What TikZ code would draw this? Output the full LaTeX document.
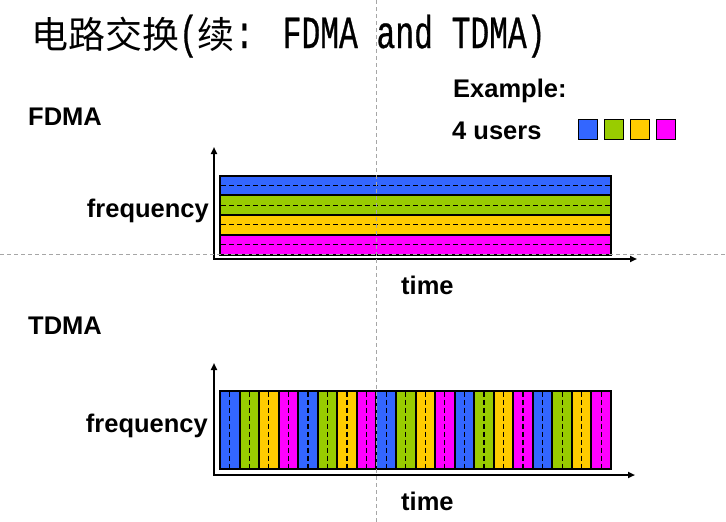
\documentclass[tikz,border=0pt]{standalone}
\usepackage{fontspec}
\setmainfont{Liberation Sans}
\newfontfamily\cjk{Noto Sans CJK SC}
\newfontfamily\lat[FakeStretch=0.68,FakeBold=0.6]{Liberation Mono}
\usetikzlibrary{arrows.meta}
\definecolor{ublue}{HTML}{3366FF}
\definecolor{ugreen}{HTML}{99CC00}
\definecolor{uyellow}{HTML}{FFCC00}
\definecolor{umag}{HTML}{FF00FF}
\definecolor{guide}{HTML}{A6A6A6}
\begin{document}
\begin{tikzpicture}[x=1pt,y=-1pt,
  lbl/.style={font=\fontsize{25.5}{30}\selectfont\bfseries, inner sep=0pt},
  band/.style={draw=black, line width=2pt},
  mid/.style={black, dash pattern=on 5pt off 3pt, line width=1.2pt},
  axis/.style={line width=2pt, line join=miter, {Triangle[length=7pt,width=6pt]}-{Triangle[length=7pt,width=6pt]}},
  guideline/.style={guide, line width=1pt, dash pattern=on 4pt off 3pt},
  swatch/.style={draw=black, line width=1pt, minimum width=19pt, minimum height=20pt, inner sep=0pt}]
\useasboundingbox (0,0) rectangle (726,522);
\fill[white] (0,0) rectangle (726,522);

% title
\node[anchor=base west, inner sep=0pt] (title) at (31,48)
  {\fontsize{37}{40}\selectfont{\cjk 电路交换}{\lat\fontsize{46}{40}\selectfont (}{\cjk 续}{\lat\fontsize{46}{40}\selectfont :\hspace{4pt} FDMA and TDMA)}};

% labels
\node[lbl, anchor=base west] (fdma) at (28,125) {FDMA};
\node[lbl, anchor=base west] (tdma) at (28,334) {TDMA};
\node[lbl, anchor=base east] (freq1) at (209,217) {frequency};
\node[lbl, anchor=base east] (freq2) at (208,432) {frequency};
\node[lbl, anchor=base west] (time1) at (401,294) {time};
\node[lbl, anchor=base west] (time2) at (401,510) {time};
\node[lbl, anchor=base west] (ex) at (453,97) {Example:};
\node[lbl, anchor=base west] (users) at (452,139) {4 users};

% legend
\node[swatch, fill=ublue] (s1) at (587.5,129) {};
\node[swatch, fill=ugreen] (s2) at (613.5,129) {};
\node[swatch, fill=uyellow] (s3) at (639.5,129) {};
\node[swatch, fill=umag] (s4) at (665.5,129) {};

% FDMA chart
\foreach \c [count=\i from 0] in {ublue,ugreen,uyellow,umag} {
  \pgfmathsetmacro\ya{175.5+\i*19.75}
  \pgfmathsetmacro\yb{175.5+(\i+1)*19.75}
  \pgfmathsetmacro\ym{175.5+(\i+0.5)*19.75}
  \draw[band, fill=\c] (220,\ya) rectangle (611,\yb);
  \draw[mid] (221,\ym) -- (610,\ym);
}
\coordinate (fo) at (214,259);
\coordinate (fy) at (214,147);
\coordinate (fx) at (637,259);
\draw[axis] (fy) -- (fo) -- (fx);

% TDMA chart
\foreach \k in {0,...,4} {
  \foreach \c [count=\j from 0] in {ublue,ugreen,uyellow,umag} {
    \pgfmathsetmacro\xa{220+(4*\k+\j)*19.55}
    \pgfmathsetmacro\xb{220+(4*\k+\j+1)*19.55}
    \pgfmathsetmacro\xm{220+(4*\k+\j+0.5)*19.55}
    \draw[band, fill=\c] (\xa,390.5) rectangle (\xb,468.5);
    \draw[mid] (\xm,391.5) -- (\xm,467.5);
  }
}
\coordinate (to) at (214,475);
\coordinate (ty) at (214,363);
\coordinate (tx) at (635,475);
\draw[axis] (ty) -- (to) -- (tx);

% guide lines
\coordinate (gvt) at (376,0);
\coordinate (gvb) at (376,522);
\coordinate (ghl) at (0,254.5);
\coordinate (ghr) at (726,254.5);
\draw[guideline] (gvt) -- (gvb);
\draw[guideline] (ghl) -- (ghr);
\end{tikzpicture}
\end{document}
